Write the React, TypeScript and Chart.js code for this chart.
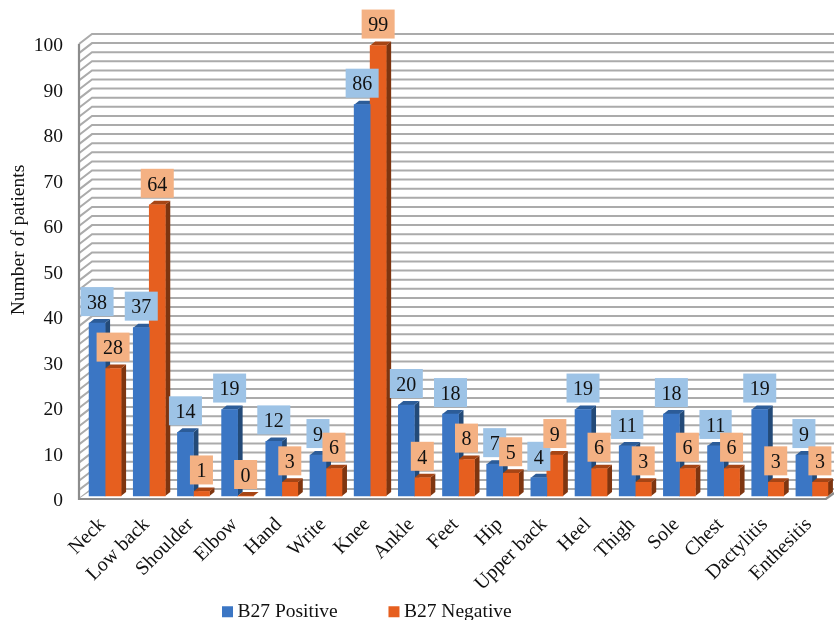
import React, { useEffect, useRef } from "react";
import { Chart, registerables } from "chart.js";

Chart.register(...registerables);

const categories = ["Neck", "Low back", "Shoulder", "Elbow", "Hand", "Write", "Knee", "Ankle", "Feet", "Hip", "Upper back", "Heel", "Thigh", "Sole", "Chest", "Dactylitis", "Enthesitis"];
const positive = [38, 37, 14, 19, 12, 9, 86, 20, 18, 7, 4, 19, 11, 18, 11, 19, 9];
const negative = [28, 64, 1, 0, 3, 6, 99, 4, 8, 5, 9, 6, 3, 6, 6, 3, 3];
const yTitle = "Number of patients";

const FONT = '"Liberation Serif", "Times New Roman", serif';
const FRONT = ["#3B76C4", "#E65F1F"];
const SIDE = ["#234A78", "#7E3510"];
const CAP = ["#2C5C98", "#A64515"];
const LABEL = ["#9DC3E6", "#F4B183"];
const BAR_SHIFT = -5;
const WALL_SHIFT = -2;
const DX = 5;
const DY = 4;

const scene3d = {
  id: "scene3d",
  afterLayout(chart: any) {
    chart.legend.top = 546;
    chart.legend.right = chart.width - 95;
  },
  beforeDatasetsDraw(chart: any) {
    const { ctx, scales } = chart;
    const y = scales.y;
    const wallX = 79;
    const backX = 92;
    const rise = 10;
    const right = chart.width;
    ctx.save();
    y.getTicks().forEach((t: any) => {
      const py = y.getPixelForValue(t.value) + WALL_SHIFT;
      ctx.strokeStyle = "#ABABAB";
      ctx.lineWidth = 2;
      ctx.beginPath();
      ctx.moveTo(wallX, py);
      ctx.lineTo(backX, py - rise);
      ctx.lineTo(right, py - rise);
      ctx.stroke();
    });
    const y0 = y.getPixelForValue(0) + WALL_SHIFT;
    const y100 = y.getPixelForValue(100) + WALL_SHIFT;
    ctx.fillStyle = "#FFFFFF";
    ctx.beginPath();
    ctx.moveTo(wallX + 1, y0 - 1);
    ctx.lineTo(backX, y0 - rise + 1);
    ctx.lineTo(right, y0 - rise + 1);
    ctx.lineTo(right, y0 - 6);
    ctx.lineTo(right - 8, y0 - 1);
    ctx.closePath();
    ctx.fill();
    ctx.strokeStyle = "#8C8C8C";
    ctx.lineWidth = 2.2;
    ctx.beginPath();
    ctx.moveTo(wallX, y100);
    ctx.lineTo(wallX, y0);
    ctx.lineTo(right - 8, y0);
    ctx.lineTo(right, y0 - 6);
    ctx.stroke();

    ctx.translate(0, BAR_SHIFT);
    chart.data.datasets.forEach((_d: any, di: number) => {
      chart.getDatasetMeta(di).data.forEach((bar: any) => {
        const half = bar.width / 2;
        const l = bar.x - half;
        const r = bar.x + half;
        const top = bar.y;
        const base = bar.base;
        ctx.fillStyle = SIDE[di];
        ctx.beginPath();
        ctx.moveTo(r, top);
        ctx.lineTo(r + DX, top - DY);
        ctx.lineTo(r + DX, base - DY);
        ctx.lineTo(r, base);
        ctx.closePath();
        ctx.fill();
        ctx.fillStyle = CAP[di];
        ctx.beginPath();
        ctx.moveTo(l, top);
        ctx.lineTo(l + DX, top - DY);
        ctx.lineTo(r + DX, top - DY);
        ctx.lineTo(r, top);
        ctx.closePath();
        ctx.fill();
      });
    });
    ctx.restore();
    ctx.save();
    ctx.translate(0, BAR_SHIFT);
  },
  afterDatasetsDraw(chart: any) {
    const { ctx } = chart;
    ctx.restore();
    ctx.save();
    ctx.translate(0, BAR_SHIFT);
    ctx.font = `20px ${FONT}`;
    ctx.textAlign = "center";
    ctx.textBaseline = "middle";
    categories.forEach((_c, i) => {
      chart.data.datasets.forEach((d: any, di: number) => {
        const bar = chart.getDatasetMeta(di).data[i];
        const text = String(d.data[i]);
        const w = ctx.measureText(text).width + 13;
        const h = 29;
        const cy = bar.y - 21.5;
        ctx.fillStyle = LABEL[di];
        ctx.fillRect(bar.x - w / 2, cy - h / 2, w, h);
        ctx.fillStyle = "#111111";
        ctx.fillText(text, bar.x, cy + 2);
      });
    });
    ctx.restore();
    ctx.save();
    ctx.font = `19.5px ${FONT}`;
    ctx.fillStyle = "#111111";
    ctx.textAlign = "center";
    ctx.textBaseline = "middle";
    ctx.translate(19, 240);
    ctx.rotate(-Math.PI / 2);
    ctx.fillText(yTitle, 0, 0);
    ctx.restore();
  },
};

export default function App() {
  const ref = useRef<HTMLCanvasElement | null>(null);
  useEffect(() => {
    document.body.style.margin = "0";
    const chart = new Chart(ref.current as HTMLCanvasElement, {
      type: "bar",
      data: {
        labels: categories,
        datasets: [
          { label: "B27 Positive", data: positive, backgroundColor: FRONT[0], borderWidth: 0, barThickness: 16, clip: false },
          { label: "B27 Negative", data: negative, backgroundColor: FRONT[1], borderWidth: 0, barThickness: 16, clip: false },
        ],
      } as any,
      options: {
        responsive: false,
        animation: false,
        layout: { padding: { top: 46, left: 0, right: 0, bottom: -71.5 } },
        plugins: {
          tooltip: { enabled: false },
          legend: {
            position: "bottom",
            labels: {
              usePointStyle: true,
              pointStyle: "rect",
              boxWidth: 0.5,
              boxHeight: 11,
              padding: 56,
              color: "#111111",
              font: { family: FONT, size: 19.5 },
            },
          },
        },
        scales: {
          x: {
            grid: { display: false },
            border: { display: false },
            ticks: {
              autoSkip: false,
              minRotation: 45,
              maxRotation: 45,
              padding: 4,
              labelOffset: -3,
              color: "#111111",
              font: { family: FONT, size: 20 },
            },
            afterFit: (s: any) => {
              s.height = 105;
            },
          },
          y: {
            min: 0,
            max: 100,
            grid: { display: false },
            border: { display: false },
            ticks: {
              stepSize: 2,
              autoSkip: false,
              padding: 12,
              color: "#111111",
              font: { family: FONT, size: 19.5 },
              callback: (v: any) => (Number(v) % 10 === 0 ? String(v) : ""),
            },
            afterFit: (s: any) => {
              s.width = 83;
            },
          },
        },
      } as any,
      plugins: [scene3d],
    });
    return () => chart.destroy();
  }, []);
  return <canvas ref={ref} width={834} height={620} style={{ display: "block", width: 834, height: 620 }} />;
}
